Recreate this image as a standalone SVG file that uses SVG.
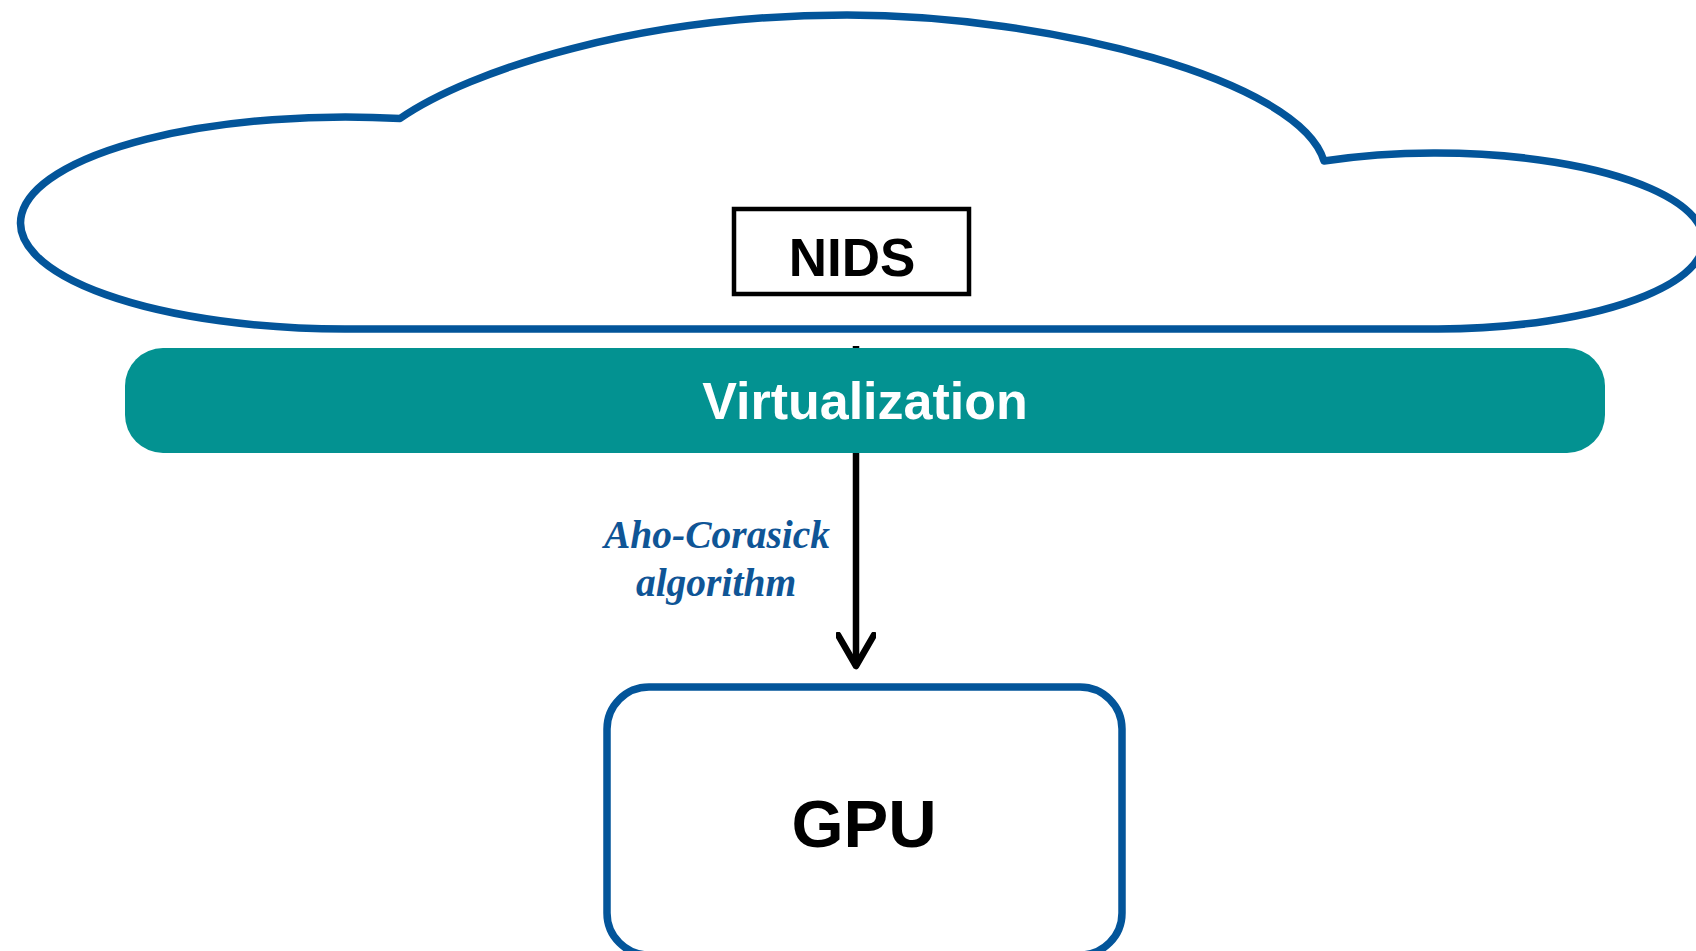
<svg xmlns="http://www.w3.org/2000/svg" width="1696" height="951" viewBox="0 0 1696 951">
<style>
.blue{fill:none;stroke:#03559a;stroke-width:7.5;stroke-linejoin:round}
.lbl{font-family:"Liberation Sans",Arial,sans-serif;font-weight:bold;text-anchor:middle}
.edge{font-family:"Liberation Serif","Times New Roman",serif;font-weight:bold;font-style:italic;fill:#0f5596;text-anchor:middle}
</style>
<defs>
<marker id="arr" viewBox="0 0 40 40" markerWidth="40" markerHeight="40" refX="34" refY="20" orient="auto" markerUnits="userSpaceOnUse">
<path d="M3 2 L34 20 L3 38" fill="none" stroke="#000" stroke-width="6.5" stroke-linecap="round" stroke-linejoin="round"/>
</marker>
</defs>
<rect width="1696" height="951" fill="#fff"/>
<g id="cloud">
<path class="blue" d="M345 329 A325 106 0 1 1 400 118.5 C470 70 640 15 847 15 C1050 15 1300 80 1324 161 A268 88 0 1 1 1438 329 Z"/>
</g>
<g id="connectors">
<line x1="856" y1="346" x2="856" y2="666" stroke="#000" stroke-width="6.5" marker-end="url(#arr)"/>
<text class="edge" font-size="39.5" x="717" y="548">Aho-Corasick</text>
<text class="edge" font-size="39.5" x="716" y="596">algorithm</text>
</g>
<g id="nids">
<rect x="734" y="209" width="235" height="85" fill="#fff" stroke="#000" stroke-width="4.5"/>
<text class="lbl" x="852" y="276" font-size="53" fill="#000">NIDS</text>
</g>
<g id="virtualization">
<rect x="125" y="348" width="1480" height="105" rx="38" ry="38" fill="#039291"/>
<text class="lbl" x="865" y="419" font-size="52" fill="#fff">Virtualization</text>
</g>
<g id="gpu">
<rect class="blue" x="607" y="687" width="515" height="268" rx="42" ry="42" fill="#fff"/>
<text class="lbl" x="864" y="847" font-size="67" fill="#000">GPU</text>
</g>
</svg>
